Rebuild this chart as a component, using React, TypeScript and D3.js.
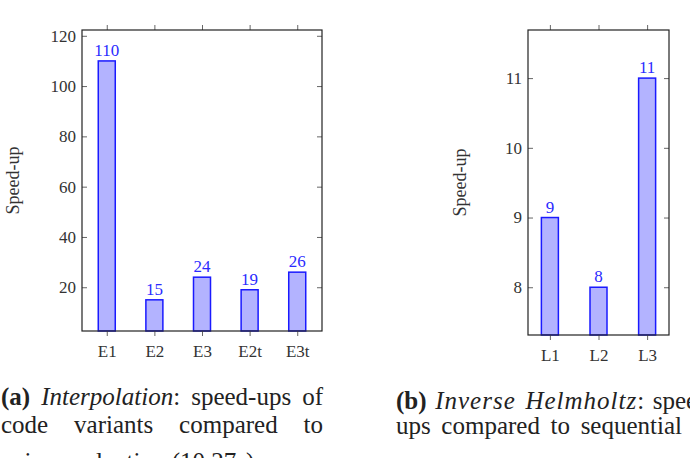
import { useEffect, useRef } from 'react';
import * as d3 from 'd3';

// chart (a): interpolation
const interpCategories = ['E1', 'E2', 'E3', 'E2t', 'E3t'];
const interpValues = [110, 15, 24, 19, 26];
const interpTicks = [20, 40, 60, 80, 100, 120];

// chart (b): inverse helmholtz
const helmCategories = ['L1', 'L2', 'L3'];
const helmValues = [9, 8, 11];
const helmTicks = [8, 9, 10, 11];

const FONT = 'Liberation Serif, Times New Roman, serif';

interface PanelOpts {
  categories: string[];
  values: number[];
  ticks: number[];
  domain: [number, number];
  left: number;
  right: number;
  top: number;
  bottom: number;
  padding: number;
  labelX: number;
}

const drawPanel = (svg: d3.Selection<SVGSVGElement, unknown, null, undefined>, o: PanelOpts) => {
  const x = d3.scalePoint<string>().domain(o.categories).range([o.left, o.right]).padding(o.padding);
  const y = d3.scaleLinear().domain(o.domain).range([o.bottom, o.top]);
  const g = svg.append('g');
  const barW = 17;

  // bars
  g.selectAll('.bar')
    .data(o.values)
    .enter().append('rect')
    .attr('x', (_, i) => (x(o.categories[i]) || 0) - barW / 2)
    .attr('y', (d) => y(d))
    .attr('width', barW)
    .attr('height', (d) => o.bottom - y(d))
    .attr('fill', '#b3b3ff')
    .attr('stroke', '#1a1aff')
    .attr('stroke-width', 1.5);

  // value labels
  g.selectAll('.val')
    .data(o.values)
    .enter().append('text')
    .attr('x', (_, i) => x(o.categories[i]) || 0)
    .attr('y', (d) => y(d) - 5)
    .attr('text-anchor', 'middle')
    .attr('fill', '#2b2bff')
    .attr('font-family', FONT)
    .attr('font-size', 17)
    .text((d) => d);

  // axes: y ticks inside on both sides, x ticks outside top and bottom
  const tickStyle = (sel: any) => {
    sel.attr('font-family', FONT).attr('font-size', 17);
    sel.select('.domain').remove();
    sel.selectAll('.tick line').attr('stroke', '#666').attr('stroke-width', 1);
    sel.selectAll('.tick text').attr('fill', '#333');
  };

  g.append('g')
    .attr('transform', `translate(${o.left},0)`)
    .call(d3.axisRight(y).tickValues(o.ticks).tickSize(5).tickFormat(() => ''))
    .call(tickStyle);
  g.append('g')
    .attr('transform', `translate(${o.left},0)`)
    .call(d3.axisLeft(y).tickValues(o.ticks).tickSize(0).tickPadding(6).tickFormat(d3.format('d')))
    .call(tickStyle);
  g.append('g')
    .attr('transform', `translate(${o.right},0)`)
    .call(d3.axisLeft(y).tickValues(o.ticks).tickSize(5).tickFormat(() => ''))
    .call(tickStyle);
  g.append('g')
    .attr('transform', `translate(0,${o.bottom})`)
    .call(d3.axisBottom(x).tickSize(5).tickPadding(9))
    .call(tickStyle);
  g.append('g')
    .attr('transform', `translate(0,${o.top})`)
    .call(d3.axisTop(x).tickSize(5).tickFormat(() => ''))
    .call(tickStyle);

  // frame
  g.append('rect')
    .attr('x', o.left)
    .attr('y', o.top)
    .attr('width', o.right - o.left)
    .attr('height', o.bottom - o.top)
    .attr('fill', 'none')
    .attr('stroke', '#222')
    .attr('stroke-width', 1.2);

  // y label
  g.append('text')
    .attr('transform', `translate(${o.labelX},${(o.top + o.bottom) / 2}) rotate(-90)`)
    .attr('text-anchor', 'middle')
    .attr('font-family', FONT)
    .attr('font-size', 18)
    .attr('fill', '#333')
    .text('Speed-up');
};

const App = () => {
  const svgRef = useRef<SVGSVGElement>(null);

  useEffect(() => {
    if (!svgRef.current) return;
    const svg = d3.select(svgRef.current);
    svg.selectAll('*').remove();

    drawPanel(svg, {
      categories: interpCategories,
      values: interpValues,
      ticks: interpTicks,
      domain: [2.6, 122.3],
      left: 82, right: 322, top: 30, bottom: 331,
      padding: 0.52,
      labelX: 19,
    });

    drawPanel(svg, {
      categories: helmCategories,
      values: helmValues,
      ticks: helmTicks,
      domain: [7.315, 11.69],
      left: 528, right: 669, top: 30, bottom: 335,
      padding: 0.45,
      labelX: 466,
    });

    // captions, justified by stretching the word spacing
    const cap = (x: number, y: number) =>
      svg.append('text')
        .attr('x', x)
        .attr('y', y)
        .attr('fill', '#222')
        .attr('font-family', FONT)
        .attr('font-size', 25);

    const justify = (t: any, width: number) => {
      const node = t.node() as SVGTextElement;
      const natural = node.getComputedTextLength();
      const spaces = (node.textContent || '').split(' ').length - 1;
      if (spaces > 0) t.attr('word-spacing', (width - natural) / spaces);
    };

    const a1 = cap(1, 405);
    a1.append('tspan').attr('font-weight', 'bold').text('(a)');
    a1.append('tspan').text(' ');
    a1.append('tspan').attr('font-style', 'italic').text('Interpolation');
    a1.append('tspan').text(': speed-ups of');
    justify(a1, 322);
    const a2 = cap(1, 433).text('code variants compared to');
    justify(a2, 322);
    cap(1, 470).text('naive evaluation (10.27s).');

    const b1 = cap(396, 409);
    b1.append('tspan').attr('font-weight', 'bold').text('(b)');
    b1.append('tspan').text(' ');
    b1.append('tspan').attr('font-style', 'italic').attr('letter-spacing', 1).text('Inverse Helmholtz');
    b1.append('tspan').text(': speed-');
    justify(b1, 322);
    const b2 = cap(396, 434).text('ups compared to sequential');
    justify(b2, 286);
  }, []);

  return (
    <svg
      ref={svgRef}
      width={690}
      height={458}
      style={{ position: 'absolute', left: 0, top: 0, background: 'white' }}
    />
  );
};

export default App;
